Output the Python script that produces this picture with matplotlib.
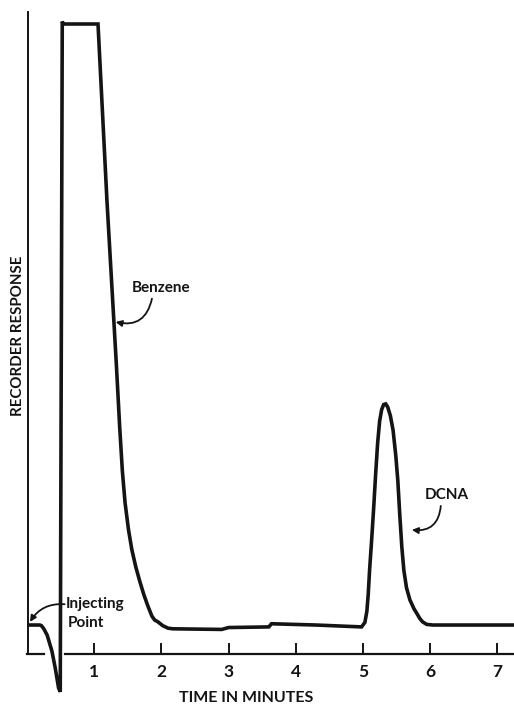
import matplotlib
matplotlib.use("Agg")
import matplotlib.pyplot as plt

# Chromatogram trace: time (min) and recorder response (arbitrary units)
time_min = [0.00, 0.19, 0.215, 0.25, 0.30, 0.37, 0.42, 0.47, 0.495,
            0.525, 0.54, 1.057,
            1.19, 1.26, 1.33, 1.38, 1.42, 1.46, 1.51, 1.56, 1.62, 1.68, 1.74,
            1.80, 1.86, 1.90, 1.95, 2.02, 2.10, 2.17,
            2.90, 3.00, 3.60, 3.64, 4.30, 4.98,
            5.03, 5.06, 5.08, 5.10, 5.13, 5.16, 5.19, 5.22, 5.25, 5.28, 5.31,
            5.34, 5.37, 5.41, 5.45, 5.49, 5.52, 5.55, 5.58, 5.61, 5.65, 5.70,
            5.76, 5.80, 5.85, 5.89, 5.95, 6.04, 7.30]
response = [4.6, 4.6, 4.5, 4.0, 3.0, 0.5, -2.2, -5.4, -6.0,
            100.4, 100.0, 100.0,
            72.0, 59.0, 46.0, 36.0, 29.0, 24.0, 19.8, 16.6, 13.8, 11.5, 9.4,
            7.6, 6.0, 5.4, 5.1, 4.5, 4.1, 4.0,
            3.9, 4.2, 4.3, 4.8, 4.6, 4.3,
            5.0, 6.8, 9.5, 13.3, 18.0, 23.0, 28.5, 33.5, 37.0, 38.8, 39.6,
            39.7, 39.2, 37.8, 35.5, 31.5, 27.6, 22.0, 17.0, 13.3, 10.5, 8.6,
            7.2, 6.5, 5.6, 5.1, 4.7, 4.6, 4.6]

tick_positions = [1, 2, 3, 4, 5, 6, 7]
tick_labels = ["1", "2", "3", "4", "5", "6", "7"]

# Peak labels: text, text anchor (t, y), arrow tail (t, y), arrow head (t, y)
peak_labels = ["Benzene", "DCNA"]
label_pos = [(1.56, 58.1), (5.92, 25.2)]
arrow_tail = [(1.86, 56.4), (6.16, 23.5)]
arrow_head = [(1.32, 52.7), (5.73, 19.7)]

INK = "#141414"
FONT = ["Lato", "DejaVu Sans"]

fig = plt.figure(figsize=(5.14, 7.06), dpi=100)
ax = fig.add_axes([27 / 514, 1.6 / 706, 487 / 514, 693 / 706])
ax.set_xlim(0, 7.25)
ax.set_ylim(-8, 102)

ax.plot(time_min, response, color=INK, lw=2.6, solid_joinstyle="miter",
        solid_capstyle="butt", clip_on=False, zorder=3)

# Axis lines: left edge and the time axis (broken where the trace dips below it)
for s in ["top", "right", "left", "bottom"]:
    ax.spines[s].set_visible(False)
ax.spines["bottom"].set_position(("data", 0))
ax.plot([0.015, 0.015], [0, 101.9], color=INK, lw=1.4, clip_on=False)
ax.plot([0.0, 0.25], [0, 0], color=INK, lw=1.6, clip_on=False)
ax.plot([0.565, 7.3], [0, 0], color=INK, lw=1.6, clip_on=False)

ax.set_yticks([])
ax.set_xticks(tick_positions)
ax.set_xticklabels(tick_labels, fontsize=12.5, fontweight="bold", color=INK, family=FONT)
ax.tick_params(axis="x", direction="in", length=8, width=1.4, color=INK, pad=7)

ax.text(3.27, -7.0, "TIME IN MINUTES", ha="center", va="center", fontsize=11.5,
        fontweight="bold", color=INK, family=FONT, clip_on=False)
ax.text(-0.134, 50.5, "RECORDER RESPONSE", ha="center", va="center", rotation=90,
        fontsize=10.8, fontweight="bold", color=INK, family=FONT, clip_on=False)

arrow_kw = dict(arrowstyle="-|>", lw=1.3, color=INK, mutation_scale=9,
                shrinkA=0, shrinkB=0)
for name, pos, tail, head in zip(peak_labels, label_pos, arrow_tail, arrow_head):
    ax.text(pos[0], pos[1], name, ha="left", va="center", fontsize=11,
            fontweight="bold", color=INK, family=FONT)
    ax.annotate("", xy=head, xytext=tail,
                arrowprops=dict(connectionstyle="arc3,rad=-0.5", **arrow_kw))

# Injection marker
ax.text(0.58, 7.9, "Injecting", ha="left", va="center", fontsize=11,
        fontweight="bold", color=INK, family=FONT)
ax.text(0.61, 4.9, "Point", ha="left", va="center", fontsize=11,
        fontweight="bold", color=INK, family=FONT)
ax.annotate("", xy=(0.045, 5.1), xytext=(0.56, 7.9),
            arrowprops=dict(connectionstyle="arc3,rad=0.3", **arrow_kw))

fig.savefig("out.png", dpi=100, facecolor="white")
